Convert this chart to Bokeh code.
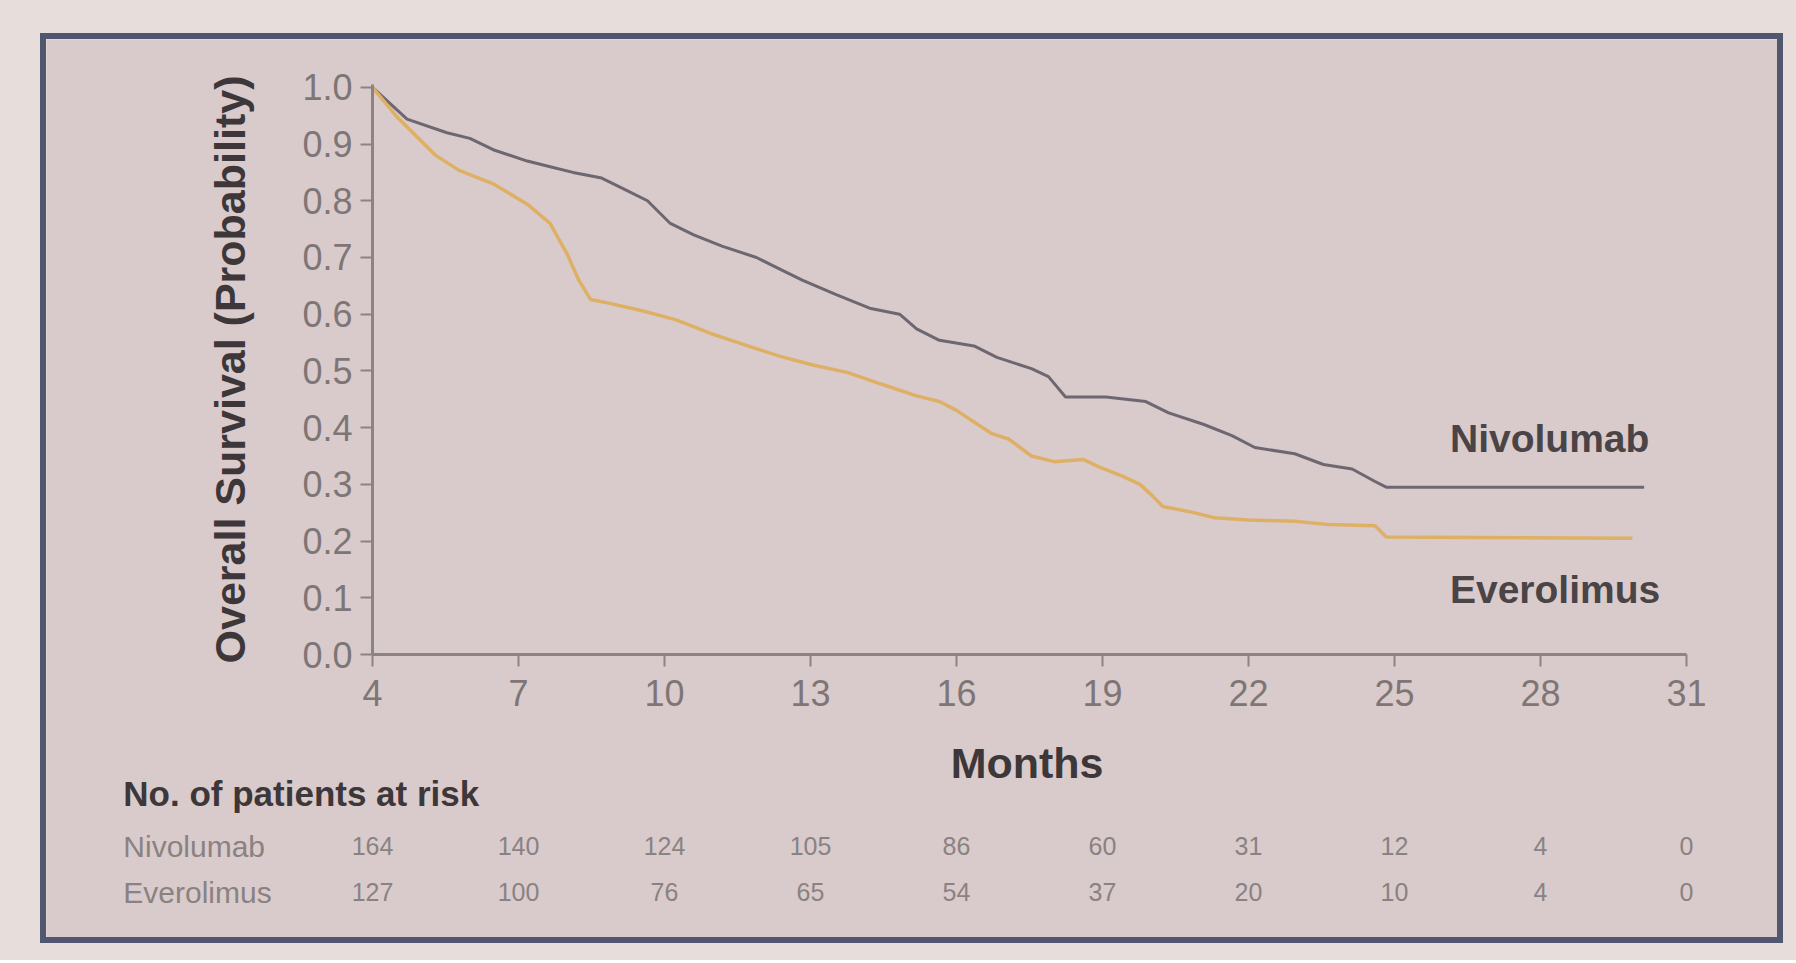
from bokeh.plotting import figure
from bokeh.models import Range1d, Label, FixedTicker, NumeralTickFormatter, ColumnDataSource
from bokeh.layouts import column
from bokeh.core.properties import value
from bokeh.embed import file_html
from bokeh.resources import INLINE

# ---- data ----
niv_months = [4.0, 4.71, 5.53, 6.0, 6.48, 7.18, 7.65, 8.12, 8.71, 9.18, 9.65, 10.12,
              10.60, 11.18, 11.89, 12.36, 12.83, 13.54, 14.24, 14.83, 15.18, 15.65,
              16.36, 16.83, 17.54, 17.89, 18.24, 19.07, 19.89, 20.36, 21.07, 21.66,
              22.13, 22.95, 23.54, 24.13, 24.60, 24.83, 30.13]
niv_surv = [1.0, 0.944, 0.920, 0.910, 0.890, 0.870, 0.860, 0.850, 0.840, 0.820, 0.800, 0.760,
            0.740, 0.720, 0.700, 0.680, 0.660, 0.634, 0.610, 0.600, 0.574, 0.554,
            0.544, 0.524, 0.504, 0.490, 0.454, 0.454, 0.446, 0.426, 0.406, 0.386,
            0.365, 0.354, 0.335, 0.327, 0.305, 0.295, 0.295]

eve_months = [4.0, 4.48, 4.83, 5.30, 5.77, 6.48, 7.18, 7.65, 8.0, 8.24, 8.48, 8.83, 9.54,
              10.24, 10.95, 11.65, 12.36, 13.07, 13.77, 14.48, 15.18, 15.65, 16.01, 16.36,
              16.71, 17.07, 17.54, 18.01, 18.60, 18.95, 19.42, 19.77, 20.01, 20.24, 20.83,
              21.30, 22.01, 22.95, 23.66, 24.60, 24.83, 29.89]
eve_surv = [1.0, 0.950, 0.920, 0.880, 0.854, 0.830, 0.794, 0.760, 0.706, 0.660, 0.626, 0.620, 0.606,
            0.590, 0.566, 0.546, 0.526, 0.510, 0.497, 0.476, 0.456, 0.446, 0.430, 0.410,
            0.390, 0.380, 0.350, 0.340, 0.344, 0.330, 0.314, 0.300, 0.281, 0.261, 0.251,
            0.241, 0.237, 0.235, 0.229, 0.227, 0.207, 0.205]

x_ticks = [4, 7, 10, 13, 16, 19, 22, 25, 28, 31]
y_ticks = [0.0, 0.1, 0.2, 0.3, 0.4, 0.5, 0.6, 0.7, 0.8, 0.9, 1.0]

risk_groups = ["Nivolumab", "Everolimus"]
risk_nivolumab = [164, 140, 124, 105, 86, 60, 31, 12, 4, 0]
risk_everolimus = [127, 100, 76, 65, 54, 37, 20, 10, 4, 0]

# ---- styling / layout constants ----
FONT = "Liberation Sans"
INSIDE = "#d9cbcb"
OUTSIDE = "#e7dddb"
BORDER = "6px solid #525770"
NIVO_COLOR = "#6d6771"
EVE_COLOR = "#deb066"
AXIS_COLOR = "#8c8383"
TICK_TEXT = "#7e7676"
DARK_TEXT = "#3d3739"
ROW_TEXT = "#8a8282"

W = 1743                      # inner canvas width of the bordered box
LEFT, RIGHT = 326, 103        # plot frame borders
TOP = 45
X0, X1 = 4, 31
Y0, Y1 = 0, 1.005
FRAME_H = 570
BOTTOM = 70
P_H = TOP + FRAME_H + BOTTOM  # height of the curve panel
R_H = 226                     # height of the risk-table panel
OVERLAP = 1

p = figure(width=W, height=P_H,
           x_range=Range1d(X0, X1), y_range=Range1d(Y0, Y1),
           output_backend="svg", toolbar_location=None,
           min_border_left=LEFT, min_border_right=RIGHT,
           min_border_top=TOP, min_border_bottom=BOTTOM,
           background_fill_color=INSIDE, border_fill_color=INSIDE,
           outline_line_color=INSIDE, outline_line_width=2, frame_align=False,
           styles={"border": BORDER, "border-bottom": "none"},
           margin=(33, 0, 0, 40))
p.grid.visible = False

p.line(niv_months, niv_surv, line_color=NIVO_COLOR, line_width=3)
p.line(eve_months, eve_surv, line_color=EVE_COLOR, line_width=3.5)

for ax in (p.xaxis[0], p.yaxis[0]):
    ax.axis_line_color = AXIS_COLOR
    ax.axis_line_width = 3
    ax.major_tick_line_color = AXIS_COLOR
    ax.major_tick_line_width = 2
    ax.major_tick_in = 0
    ax.major_tick_out = 12
    ax.minor_tick_line_color = None
    ax.major_label_text_font = FONT
    ax.major_label_text_font_size = "36px"
    ax.major_label_text_color = TICK_TEXT
    ax.axis_label_text_font = FONT
    ax.axis_label_text_font_style = "bold"
    ax.axis_label_text_color = DARK_TEXT

p.xaxis.ticker = FixedTicker(ticks=x_ticks)
p.yaxis.ticker = FixedTicker(ticks=y_ticks)
p.yaxis.formatter = NumeralTickFormatter(format="0.0")
p.xaxis.major_label_standoff = 13
p.yaxis.major_label_standoff = 8
p.yaxis.axis_label = "Overall Survival (Probability)"
p.yaxis.axis_label_text_font_size = "43px"
p.yaxis.axis_label_standoff = 45

# curve names
for name, yy in zip(risk_groups, [0.380, 0.115]):
    p.add_layout(Label(x=26.14, y=yy, text=name, text_font=FONT,
                       text_font_style="bold", text_font_size="39px",
                       text_color="#4a4446", text_baseline="middle", text_align="left"))

# ---- risk table panel, sharing the same horizontal scale ----
px_per_month = (W - LEFT - RIGHT) / (X1 - X0)
px_per_unit = FRAME_H / (Y1 - Y0)
r_top = -(BOTTOM - OVERLAP) / px_per_unit
r_bottom = r_top - R_H / px_per_unit

r = figure(width=W, height=R_H,
           x_range=Range1d(X0 - LEFT / px_per_month, X1 + RIGHT / px_per_month),
           y_range=Range1d(r_bottom, r_top),
           output_backend="svg", toolbar_location=None,
           min_border=0, min_border_left=0, min_border_right=0,
           min_border_top=0, min_border_bottom=0,
           background_fill_color=INSIDE, border_fill_color=INSIDE,
           outline_line_color=None, frame_align=False,
           styles={"border": BORDER, "border-top": "none"},
           margin=(-OVERLAP, 0, 0, 40))
r.grid.visible = False
r.axis.visible = False

r.text(x=[17.45], y=[-0.201], text=["Months"], text_font=value(FONT),
       text_font_style="bold", text_font_size=value("43px"), text_color=DARK_TEXT,
       text_align="center", text_baseline="middle")
r.text(x=[-1.12], y=[-0.256], text=["No. of patients at risk"], text_font=value(FONT),
       text_font_style="bold", text_font_size=value("35px"), text_color=DARK_TEXT,
       text_align="left", text_baseline="middle")

row_y = [-0.349, -0.430]
r.text(x=[-1.12, -1.12], y=row_y, text=risk_groups, text_font=value(FONT),
       text_font_size=value("30px"), text_color=ROW_TEXT,
       text_align="left", text_baseline="middle")

for counts, yy in zip([risk_nivolumab, risk_everolimus], row_y):
    src = ColumnDataSource(dict(x=x_ticks, y=[yy] * len(x_ticks),
                                t=[str(n) for n in counts]))
    r.text(x="x", y="y", text="t", source=src, text_font=value(FONT),
           text_font_size=value("25px"), text_color=ROW_TEXT,
           text_align="center", text_baseline="middle")

layout = column(p, r, width=1796, height=960, spacing=0,
                styles={"background-color": OUTSIDE})

open("out.html", "w").write(file_html(layout, INLINE))
